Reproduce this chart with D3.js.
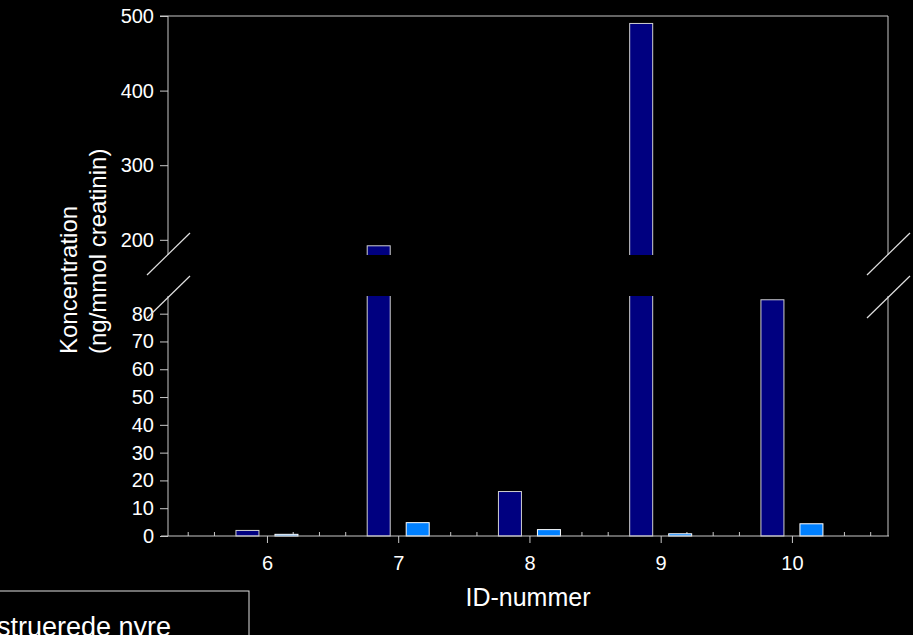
<!DOCTYPE html>
<html>
<head>
<meta charset="utf-8">
<script src="https://cdn.jsdelivr.net/npm/d3@7"></script>
<style>
  body { margin: 0; background: #000; overflow: hidden; }
  svg text { font-family: "Liberation Sans", Arial, sans-serif; fill: #fff; }
</style>
</head>
<body>
<div id="graf"></div>
<script>
// data
const ids = [6, 7, 8, 9, 10]
const serieMork = [2, 192, 16, 490, 85]      // mørkeblå
const serieLys = [0.6, 4.8, 2.3, 0.8, 4.4]  // lyseblå
const ticksLav = [0, 10, 20, 30, 40, 50, 60, 70, 80]
const ticksHoj = [200, 300, 400, 500]

const W = 913, H = 635
const venstre = 168, hojre = 888
const ovre = 16, bund = 536
const brudTop = 254, brudBund = 297
const lin = "#c8c8c8"

const svg = d3.select("#graf").append("svg")
  .attr("width", W).attr("height", H)

svg.append("rect").attr("width", W).attr("height", H).attr("fill", "#000")

const x = d3.scaleLinear().domain([5.246, 10.732]).range([venstre, hojre])
const xSub = d3.scaleBand().domain(["mork", "lys"]).range([-31, 31]).paddingInner(16 / 39)

const yLav = d3.scaleLinear().domain([0, 86]).range([bund, brudBund])
const yHoj = d3.scaleLinear().domain([181, 500]).range([brudTop, ovre])
const y = (v) => (v <= 86 ? yLav(v) : yHoj(v))

// minor ticks on x axis (pointing up)
const minor = d3.range(5.4, 10.7, 0.2).filter((d) => Math.abs(d - Math.round(d)) > 0.05)
svg.selectAll(".minor").data(minor).enter().append("line")
  .attr("x1", (d) => x(d)).attr("x2", (d) => x(d))
  .attr("y1", bund).attr("y2", bund - 4)
  .attr("stroke", lin)

// bars
const rows = ids.map((id, i) => ({ id, mork: serieMork[i], lys: serieLys[i] }))
const g = svg.selectAll(".grp").data(rows).enter().append("g")
  .attr("transform", (d) => `translate(${x(d.id)},0)`)

g.append("rect")
  .attr("x", xSub("mork")).attr("width", xSub.bandwidth())
  .attr("y", (d) => y(d.mork)).attr("height", (d) => bund - y(d.mork))
  .attr("fill", "#000080").attr("stroke", "#d0d0d0")

g.append("rect")
  .attr("x", xSub("lys")).attr("width", xSub.bandwidth())
  .attr("y", (d) => y(d.lys)).attr("height", (d) => bund - y(d.lys))
  .attr("fill", "#0080ff").attr("stroke", "#fff")

// frame
svg.append("line").attr("x1", venstre - 8).attr("x2", hojre).attr("y1", ovre).attr("y2", ovre).attr("stroke", lin)
svg.append("line").attr("x1", hojre).attr("x2", hojre).attr("y1", ovre).attr("y2", bund).attr("stroke", lin)
svg.append("line").attr("x1", venstre).attr("x2", venstre).attr("y1", ovre).attr("y2", bund).attr("stroke", lin)
svg.append("line").attr("x1", venstre - 7).attr("x2", hojre + 1).attr("y1", bund).attr("y2", bund).attr("stroke", lin)

// break gap
svg.append("rect").attr("x", 0).attr("width", W)
  .attr("y", brudTop + 1).attr("height", brudBund - brudTop - 2)
  .attr("fill", "#000")

// y axes
const axLav = svg.append("g").attr("transform", `translate(${venstre},0)`)
  .call(d3.axisLeft(yLav).tickValues(ticksLav).tickSize(8).tickPadding(6))
const axHoj = svg.append("g").attr("transform", `translate(${venstre},0)`)
  .call(d3.axisLeft(yHoj).tickValues(ticksHoj).tickSize(8).tickPadding(6))
;[axLav, axHoj].forEach((a) => {
  a.select(".domain").remove()
  a.selectAll("line").attr("stroke", lin)
  a.selectAll("text").attr("font-size", 20).attr("fill", "#fff")
    .attr("font-family", "Liberation Sans, Arial, sans-serif")
})

// x axis
const axX = svg.append("g").attr("transform", `translate(0,${bund})`)
  .call(d3.axisBottom(x).tickValues(ids).tickFormat(d3.format("d")).tickSize(7).tickPadding(13))
axX.select(".domain").remove()
axX.selectAll("line").attr("stroke", lin)
axX.selectAll("text").attr("font-size", 20).attr("fill", "#fff")
  .attr("font-family", "Liberation Sans, Arial, sans-serif")

// break marks
const brud = [[venstre, brudTop], [venstre, brudBund], [hojre, brudTop], [hojre, brudBund]]
svg.selectAll(".brud").data(brud).enter().append("line")
  .attr("x1", (d) => d[0] - 21).attr("y1", (d) => d[1] + 21)
  .attr("x2", (d) => d[0] + 22).attr("y2", (d) => d[1] - 21)
  .attr("stroke", "#e0e0e0").attr("stroke-width", 1.2)

// titles
svg.append("text")
  .attr("transform", "translate(77,354) rotate(-90)")
  .attr("font-size", 24).text("Koncentration")
svg.append("text")
  .attr("transform", "translate(106,354) rotate(-90)")
  .attr("font-size", 24).text("(ng/mmol creatinin)")

svg.append("text")
  .attr("x", 528).attr("y", 606).attr("text-anchor", "middle")
  .attr("font-size", 25).text("ID-nummer")

// legend (cut at the edge, as in the original slide)
svg.append("rect").attr("x", -200).attr("y", 591).attr("width", 449).attr("height", 100)
  .attr("fill", "none").attr("stroke", "#e0e0e0")
svg.append("text")
  .attr("x", 171).attr("y", 636).attr("text-anchor", "end")
  .attr("font-size", 27).text("Obstruerede nyre")
</script>
</body>
</html>
